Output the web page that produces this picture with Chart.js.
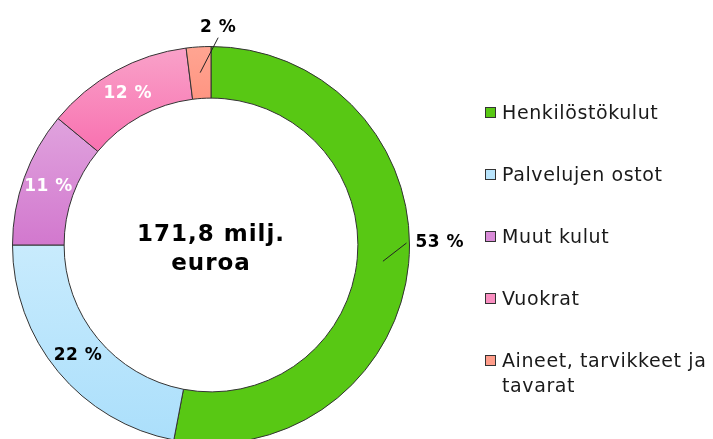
<!DOCTYPE html>
<html>
<head>
<meta charset="utf-8">
<title>Kulut</title>
<script src="https://cdn.jsdelivr.net/npm/chart.js"></script>
<style>
  html, body { margin: 0; padding: 0; background: #fff; overflow: hidden; }
  #wrap { width: 713px; height: 439px; overflow: hidden; }
</style>
</head>
<body>
<div id="wrap">
  <canvas id="chart" width="713" height="449"></canvas>
</div>
<script>
// Kulujen jakauma (%)
const categories = [
  'Henkilöstökulut',
  'Palvelujen ostot',
  'Muut kulut',
  'Vuokrat',
  'Aineet, tarvikkeet ja tavarat'
];
const shares = [53, 22, 11, 12, 2];
const centerLines = ['171,8 milj.', 'euroa'];

// väri ylhäältä / alhaalta (liukuväri siivun sisällä)
const colorsTop = ['#58c814', '#c8ebfd', '#e0a3de', '#f9a2c9', '#ffa592'];
const colorsBottom = ['#58c814', '#abdffb', '#d278ce', '#f871b0', '#ff9582'];
const colors = ['#58c814', '#b8e4fc', '#d98bd8', '#f98ec0', '#ff9d8a'];
// miten prosenttiluku piirretään kunkin siivun kohdalle
const labelMode = ['right', 'in', 'in', 'in', 'top'];
const labelColor = ['#000', '#000', '#fff', '#fff', '#000'];

const FONT = '"DejaVu Sans", Verdana, sans-serif';

// siivun pystysuuntainen ulottuvuus liukuväriä varten
function sliceGradient(context) {
  const chart = context.chart;
  const area = chart.chartArea;
  const i = context.dataIndex;
  if (!area) return colors[i];
  const cx = (area.left + area.right) / 2;
  const cy = (area.top + area.bottom) / 2;
  const R = Math.min(area.right - area.left, area.bottom - area.top) / 2;
  const r = R * 0.74;
  const total = shares.reduce((a, b) => a + b, 0);
  let before = 0;
  for (let k = 0; k < i; k++) before += shares[k];
  const a0 = -Math.PI / 2 + before / total * 2 * Math.PI;
  const a1 = a0 + shares[i] / total * 2 * Math.PI;
  let minY = Infinity, maxY = -Infinity;
  for (let s = 0; s <= 40; s++) {
    const a = a0 + (a1 - a0) * s / 40;
    [R, r].forEach(rad => {
      const y = cy + Math.sin(a) * rad;
      minY = Math.min(minY, y);
      maxY = Math.max(maxY, y);
    });
  }
  const g = chart.ctx.createLinearGradient(0, minY, 0, maxY);
  g.addColorStop(0, colorsTop[i]);
  g.addColorStop(1, colorsBottom[i]);
  return g;
}

const sliceLabels = {
  id: 'sliceLabels',
  afterDatasetsDraw(chart) {
    const ctx = chart.ctx;
    const meta = chart.getDatasetMeta(0);
    ctx.save();
    ctx.font = 'bold 17px ' + FONT;
    ctx.letterSpacing = '0.5px';
    meta.data.forEach((arc, i) => {
      const p = arc.getProps(['x', 'y', 'startAngle', 'endAngle', 'innerRadius', 'outerRadius'], true);
      const mid = (p.startAngle + p.endAngle) / 2;
      const text = shares[i] + ' %';
      const ringMid = (p.innerRadius + p.outerRadius) / 2;
      ctx.fillStyle = labelColor[i];
      if (labelMode[i] === 'in') {
        ctx.textAlign = 'center';
        ctx.textBaseline = 'middle';
        ctx.fillText(text, p.x + Math.cos(mid) * ringMid, p.y + Math.sin(mid) * ringMid);
        return;
      }
      const ax = p.x + Math.cos(mid) * ringMid;
      const ay = p.y + Math.sin(mid) * ringMid;
      let ex, ey;
      ctx.strokeStyle = '#222';
      ctx.lineWidth = 1;
      if (labelMode[i] === 'right') {
        ex = p.x + p.outerRadius - 3;
        ey = p.y - 2;
        ctx.beginPath(); ctx.moveTo(ax, ay); ctx.lineTo(ex, ey); ctx.stroke();
        ctx.textAlign = 'left';
        ctx.textBaseline = 'middle';
        ctx.fillText(text, ex + 9, ey);
      } else {
        ex = ax + 18;
        ey = ay - 35;
        ctx.beginPath(); ctx.moveTo(ax, ay); ctx.lineTo(ex, ey); ctx.stroke();
        ctx.textAlign = 'center';
        ctx.textBaseline = 'alphabetic';
        ctx.fillText(text, ex, ey - 6);
      }
    });

    // keskiteksti
    const c = meta.data[0];
    ctx.fillStyle = '#000';
    ctx.font = 'bold 23px ' + FONT;
    ctx.letterSpacing = '1px';
    ctx.textAlign = 'center';
    ctx.textBaseline = 'alphabetic';
    ctx.fillText(centerLines[0], c.x, c.y - 4);
    ctx.fillText(centerLines[1], c.x, c.y + 25);

    // selite oikealla
    ctx.font = '19px ' + FONT;
    ctx.letterSpacing = '0.6px';
    ctx.textAlign = 'left';
    const lx = 485, tx = 502, maxW = 214;
    let base = 119;
    categories.forEach((name, i) => {
      ctx.fillStyle = colors[i];
      ctx.fillRect(lx, base - 12, 11, 11);
      ctx.strokeStyle = '#333';
      ctx.lineWidth = 1;
      ctx.strokeRect(lx + 0.5, base - 11.5, 10, 10);
      // rivitys
      const words = name.split(' ');
      const lines = [];
      let cur = '';
      words.forEach(w => {
        const t = cur ? cur + ' ' + w : w;
        if (ctx.measureText(t).width > maxW && cur) { lines.push(cur); cur = w; }
        else cur = t;
      });
      lines.push(cur);
      ctx.fillStyle = '#1a1a1a';
      lines.forEach((ln, k) => ctx.fillText(ln, tx, base + k * 25));
      base += 62;
    });
    ctx.restore();
  }
};

new Chart(document.getElementById('chart'), {
  type: 'doughnut',
  data: {
    labels: categories,
    datasets: [{
      data: shares,
      backgroundColor: sliceGradient,
      borderColor: '#333',
      borderWidth: 1
    }]
  },
  options: {
    responsive: false,
    animation: false,
    cutout: '74%',
    layout: { padding: { left: 12, top: 46, right: 303, bottom: 5 } },
    plugins: {
      legend: { display: false },
      tooltip: { enabled: false }
    }
  },
  plugins: [sliceLabels]
});
</script>
</body>
</html>
